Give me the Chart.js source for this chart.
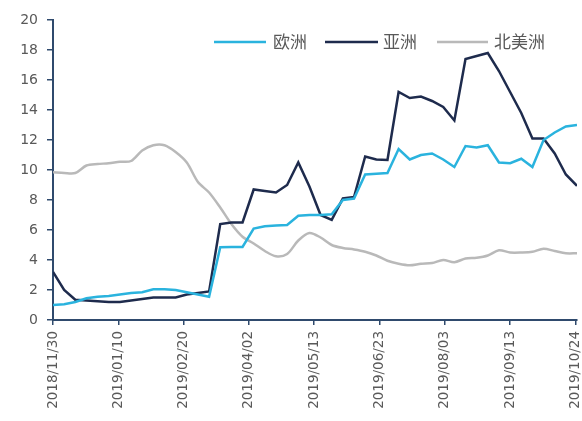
<!DOCTYPE html>
<html>
<head>
<meta charset="utf-8">
<script src="https://cdn.jsdelivr.net/npm/chart.js@4/dist/chart.umd.min.js"></script>
<style>
html,body{margin:0;padding:0;background:#fff;}
#wrap{width:582px;height:421px;}
</style>
</head>
<body>
<div id="wrap"><canvas id="c" width="582" height="421"></canvas></div>
<script>
// Series names
const seriesNames = ['欧洲', '亚洲', '北美洲'];
// Start date of the weekly series and x-axis tick labels (days after start)
const startDate = '2018/11/30';
const tickLabels = ['2018/11/30','2019/01/10','2019/02/20','2019/04/02','2019/05/13','2019/06/23','2019/08/03','2019/09/13','2019/10/24'];
const tickDays = [0, 41, 82, 123, 164, 205, 246, 287, 328];
// Weekly values
const europe = [1.0,1.05,1.2,1.45,1.55,1.6,1.7,1.8,1.85,2.05,2.05,2.0,1.85,1.7,1.55,4.85,4.87,4.87,6.1,6.25,6.3,6.33,6.95,7.0,7.0,7.05,8.0,8.1,9.7,9.75,9.8,11.4,10.7,11.0,11.1,10.7,10.2,11.6,11.5,11.65,10.5,10.45,10.75,10.2,12.0,12.5,12.9,13.0];
const asia = [3.2,2.0,1.35,1.3,1.25,1.2,1.2,1.3,1.4,1.5,1.5,1.5,1.7,1.8,1.9,6.4,6.5,6.5,8.7,8.6,8.5,9.0,10.5,8.9,7.0,6.67,8.1,8.2,10.9,10.7,10.67,15.2,14.8,14.9,14.6,14.2,13.3,17.4,17.6,17.8,16.6,15.2,13.8,12.1,12.1,11.1,9.7,8.95];
const northAmerica = [9.85,9.8,9.8,10.3,10.4,10.45,10.55,10.6,11.3,11.65,11.65,11.2,10.5,9.2,8.5,7.5,6.4,5.55,5.1,4.6,4.25,4.4,5.3,5.8,5.5,5.0,4.8,4.7,4.55,4.3,3.95,3.75,3.65,3.75,3.8,4.0,3.85,4.1,4.15,4.3,4.65,4.5,4.5,4.55,4.75,4.6,4.45,4.45];
const yTicks = [0,2,4,6,8,10,12,14,16,18,20];

const weekDays = europe.map((_, i) => i * 7);
const toPts = arr => arr.map((v, i) => ({x: weekDays[i], y: v}));

const colors = ['#2ab3de', '#1e2b4d', '#b9b9b9'];
const axisColor = '#2f4a6d';
const textColor = '#595959';
const fontFam = '"DejaVu Sans", sans-serif';

const legendPlugin = {
  id: 'customLegend',
  afterDraw(chart) {
    const ctx = chart.ctx;
    const y = 42;
    const items = [
      {x: 214, w: 52, tx: 273},
      {x: 325, w: 53, tx: 383},
      {x: 437, w: 51, tx: 494}
    ];
    ctx.save();
    ctx.font = '17px "Noto Sans CJK SC", sans-serif';
    ctx.textBaseline = 'middle';
    ctx.textAlign = 'left';
    chart.data.datasets.forEach((ds, i) => {
      const it = items[i];
      ctx.strokeStyle = ds.borderColor;
      ctx.lineWidth = 2.5;
      ctx.beginPath();
      ctx.moveTo(it.x, y);
      ctx.lineTo(it.x + it.w, y);
      ctx.stroke();
      ctx.fillStyle = textColor;
      ctx.fillText(ds.label, it.tx, y);
    });
    ctx.restore();
  }
};

new Chart(document.getElementById('c'), {
  type: 'line',
  data: {
    datasets: [
      {label: seriesNames[0], data: toPts(europe), borderColor: colors[0], borderWidth: 2.5, pointRadius: 0, tension: 0, fill: false},
      {label: seriesNames[1], data: toPts(asia), borderColor: colors[1], borderWidth: 2.5, pointRadius: 0, tension: 0, fill: false},
      {label: seriesNames[2], data: toPts(northAmerica), borderColor: colors[2], borderWidth: 2.5, pointRadius: 0, tension: 0.3, fill: false}
    ]
  },
  options: {
    responsive: false,
    animation: false,
    layout: {padding: {top: 20, right: 5, left: 0, bottom: 0}},
    plugins: {legend: {display: false}, tooltip: {enabled: false}},
    scales: {
      x: {
        type: 'linear',
        min: 0,
        max: 329,
        afterFit(s) { s.height = 101; s.paddingLeft = 0; s.paddingRight = 0; },
        afterBuildTicks(s) { s.ticks = tickDays.map(v => ({value: v})); },
        border: {color: axisColor, width: 2},
        grid: {drawOnChartArea: false, drawTicks: true, tickLength: 5, color: axisColor, lineWidth: 1.5},
        ticks: {
          autoSkip: false,
          maxRotation: 90, minRotation: 90,
          padding: 6,
          color: textColor,
          font: {family: fontFam, size: 13.5},
          callback(v) { const i = tickDays.indexOf(v); return i >= 0 ? tickLabels[i] : ''; }
        }
      },
      y: {
        min: 0, max: 20,
        afterFit(s) { s.width = 53; s.paddingTop = 0; s.paddingBottom = 0; },
        afterBuildTicks(s) { s.ticks = yTicks.map(v => ({value: v})); },
        border: {color: axisColor, width: 2},
        grid: {drawOnChartArea: false, drawTicks: true, tickLength: 6, color: axisColor, lineWidth: 1.5},
        ticks: {
          padding: 9,
          color: textColor,
          font: {family: fontFam, size: 14}
        }
      }
    }
  },
  plugins: [legendPlugin]
});
</script>
</body>
</html>
